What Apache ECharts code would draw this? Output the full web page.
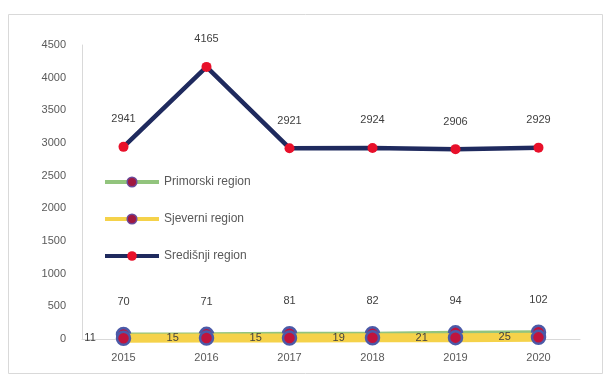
<!DOCTYPE html>
<html><head><meta charset="utf-8">
<script src="https://cdn.jsdelivr.net/npm/echarts@6/dist/echarts.min.js"></script>
<style>html,body{margin:0;padding:0;background:#fff}#c{width:611px;height:383px}</style>
</head><body><div id="c"></div>
<script>
const years = ['2015','2016','2017','2018','2019','2020'];
const primorski = [70, 71, 81, 82, 94, 102];
const sjeverni = [11, 15, 15, 19, 21, 25];
const sredisnji = [2941, 4165, 2921, 2924, 2906, 2929];
const yTicks = [0, 500, 1000, 1500, 2000, 2500, 3000, 3500, 4000, 4500];

const chart = echarts.init(document.getElementById('c'), null, {renderer: 'canvas'});
const txt = '#595959';
chart.setOption({
  animation: false,
  textStyle: {fontFamily: 'Liberation Sans, Arial, sans-serif'},
  graphic: [{type: 'rect', shape: {x: 8.5, y: 14.5, width: 594, height: 359}, style: {fill: 'none', stroke: '#d9d9d9', lineWidth: 1}, silent: true}],
  grid: {left: 82, right: 31, top: 45, bottom: 44},
  legend: {
    orient: 'vertical', left: 98, top: 171, itemGap: 25, itemWidth: 54, itemHeight: 12,
    textStyle: {color: txt, fontSize: 12},
    data: [
      {name: 'Primorski region', itemStyle: {color: '#a01840', borderColor: '#6a4a9a', borderWidth: 1.5}, lineStyle: {width: 4, color: '#92c47d'}},
      {name: 'Sjeverni region', itemStyle: {color: '#a01840', borderColor: '#6a4a9a', borderWidth: 1.5}, lineStyle: {width: 4, color: '#f5d24a'}},
      {name: 'Središnji region', lineStyle: {width: 4, color: '#1f2a5e'}}
    ]
  },
  xAxis: {
    type: 'category', data: years, boundaryGap: true,
    axisLine: {lineStyle: {color: '#d9d9d9'}}, axisTick: {show: false},
    axisLabel: {color: txt, fontSize: 11, margin: 13}
  },
  yAxis: {
    type: 'value', min: yTicks[0], max: yTicks[yTicks.length - 1], interval: 500,
    axisLine: {show: true, lineStyle: {color: '#d9d9d9'}}, axisTick: {show: false},
    splitLine: {show: false},
    axisLabel: {color: txt, fontSize: 11, margin: 16, formatter: v => String(v)}
  },
  series: [
    {
      name: 'Primorski region', type: 'line', data: primorski, z: 2,
      lineStyle: {color: '#92c47d', width: 4}, itemStyle: {color: '#c0143c', borderColor: '#4b5aa8', borderWidth: 2.5},
      symbol: 'circle', symbolSize: 13,
      label: {show: true, position: 'top', distance: 19, color: '#404040', fontSize: 11}
    },
    {
      name: 'Sjeverni region', type: 'line', data: sjeverni, z: 3,
      lineStyle: {color: '#f5d24a', width: 9}, itemStyle: {color: '#c0143c', borderColor: '#4b5aa8', borderWidth: 2.5},
      symbol: 'circle', symbolSize: 13,
      label: {show: true, position: 'left', distance: 20, color: '#404040', fontSize: 11}
    },
    {
      name: 'Središnji region', type: 'line', data: sredisnji, z: 4,
      lineStyle: {color: '#1f2a5e', width: 4.5}, itemStyle: {color: '#e8102a'},
      symbol: 'circle', symbolSize: 10,
      label: {show: true, position: 'top', distance: 17, color: '#404040', fontSize: 11}
    }
  ]
});
</script></body></html>
